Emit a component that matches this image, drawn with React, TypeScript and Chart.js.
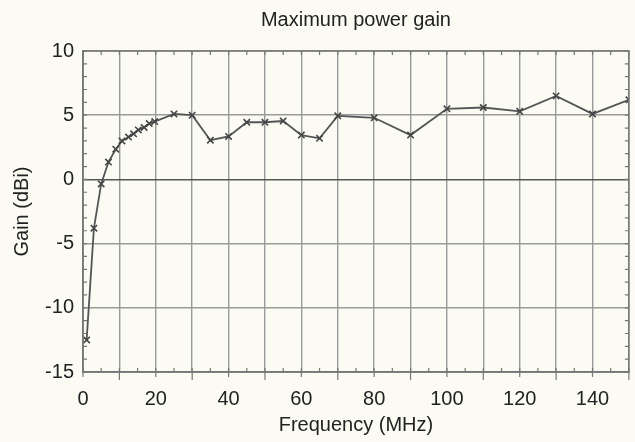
import { useEffect, useRef } from "react";
import { Chart, registerables } from "chart.js";

Chart.register(...registerables);

const chartTitle = "Maximum power gain";
const xAxisTitle = "Frequency (MHz)";
const yAxisTitle = "Gain (dBi)";

const frequencyMHz = [1, 3, 5, 7, 9, 10.7, 12.5, 13.9, 15.2, 16.8, 18.2, 19.7, 25, 30, 35, 40, 45, 50, 55, 60, 65, 70, 80, 90, 100, 110, 120, 130, 140, 150];
const gainDBi = [-12.5, -3.8, -0.35, 1.35, 2.35, 3.0, 3.3, 3.55, 3.85, 4.05, 4.35, 4.5, 5.1, 5.0, 3.05, 3.35, 4.45, 4.45, 4.55, 3.45, 3.2, 4.95, 4.8, 3.45, 5.5, 5.6, 5.3, 6.5, 5.1, 6.2];

const xMin = 0;
const xMax = 150;
const yMin = -15;
const yMax = 10;

const FONT = "'Liberation Sans', Arial, Helvetica, sans-serif";
const TEXT = "#222";
const GRID = "#9a9a9a";
const AXIS = "#777";

const minorTicks = {
  id: "minorTicks",
  afterDraw(chart: any) {
    const { ctx, chartArea } = chart;
    const xs = chart.scales.x;
    const ys = chart.scales.y;
    ctx.save();
    ctx.strokeStyle = AXIS;
    ctx.lineWidth = 1.2;
    ctx.beginPath();
    for (let v = xMin; v <= xMax; v += 5) {
      const px = xs.getPixelForValue(v);
      const major = v % 10 === 0;
      ctx.moveTo(px, chartArea.bottom + (major ? (v % 20 === 0 ? 5 : 8) : 0));
      ctx.lineTo(px, chartArea.bottom - 4);
      ctx.moveTo(px, chartArea.top);
      ctx.lineTo(px, chartArea.top + 4);
    }
    for (let v = yMin; v <= yMax; v += 1) {
      const py = ys.getPixelForValue(v);
      ctx.moveTo(chartArea.left, py);
      ctx.lineTo(chartArea.left + 4, py);
      ctx.moveTo(chartArea.right, py);
      ctx.lineTo(chartArea.right - 4, py);
    }
    ctx.stroke();
    ctx.lineWidth = 1.5;
    ctx.strokeRect(chartArea.left, chartArea.top, chartArea.right - chartArea.left, chartArea.bottom - chartArea.top);
    ctx.fillStyle = TEXT;
    ctx.font = `20px ${FONT}`;
    ctx.textAlign = "center";
    ctx.textBaseline = "middle";
    ctx.fillText(chartTitle, (chartArea.left + chartArea.right) / 2, 20);
    ctx.restore();
  },
};

export default function App() {
  const ref = useRef<HTMLCanvasElement | null>(null);

  useEffect(() => {
    if (!ref.current) return;
    const points = frequencyMHz.map((f, i) => ({ x: f, y: gainDBi[i] }));
    const chart = new Chart(ref.current, {
      type: "line",
      data: {
        datasets: [
          {
            data: points,
            borderColor: "#555",
            borderWidth: 1.8,
            pointStyle: "crossRot",
            pointRadius: 4.5,
            pointBorderColor: "#444",
            pointBorderWidth: 1.6,
            tension: 0,
            fill: false,
          },
        ],
      },
      options: {
        responsive: false,
        animation: false,
        layout: { padding: { left: 0, right: 1, top: 51, bottom: 0 } },
        plugins: {
          legend: { display: false },
          tooltip: { enabled: false },
        },
        scales: {
          x: {
            type: "linear",
            min: xMin,
            max: xMax,
            ticks: {
              stepSize: 10,
              autoSkip: false,
              maxRotation: 0,
              padding: 15,
              color: TEXT,
              font: { family: FONT, size: 20 },
              callback: (v: any) => (v % 20 === 0 && v < xMax ? String(v) : ""),
            },
            grid: { color: GRID, lineWidth: 1.4, drawTicks: false },
            border: { color: AXIS, width: 1.5 },
            title: {
              display: true,
              text: xAxisTitle,
              color: TEXT,
              font: { family: FONT, size: 20 },
              padding: { top: 5, bottom: 5 },
            },
            afterFit: (s: any) => {
              s.height = 70;
              s.paddingLeft = 0;
              s.paddingRight = 0;
            },
          },
          y: {
            type: "linear",
            min: yMin,
            max: yMax,
            ticks: {
              stepSize: 5,
              padding: 9,
              color: TEXT,
              font: { family: FONT, size: 20 },
            },
            grid: {
              color: (c: any) => (c.tick && c.tick.value === 0 ? "#555" : GRID),
              lineWidth: 1.4,
              drawTicks: false,
            },
            border: { color: AXIS, width: 1.5 },
            title: {
              display: true,
              text: yAxisTitle,
              color: TEXT,
              font: { family: FONT, size: 20 },
              padding: { top: 10, bottom: 10 },
            },
            afterFit: (s: any) => {
              s.width = 83;
              s.paddingTop = 0;
              s.paddingBottom = 0;
            },
          },
        },
      },
      plugins: [minorTicks],
    });
    return () => chart.destroy();
  }, []);

  return (
    <div style={{ position: "absolute", left: 0, top: 0, width: 635, height: 442, background: "#fbfbf3" }}>
      <canvas ref={ref} width={635} height={442} />
    </div>
  );
}
